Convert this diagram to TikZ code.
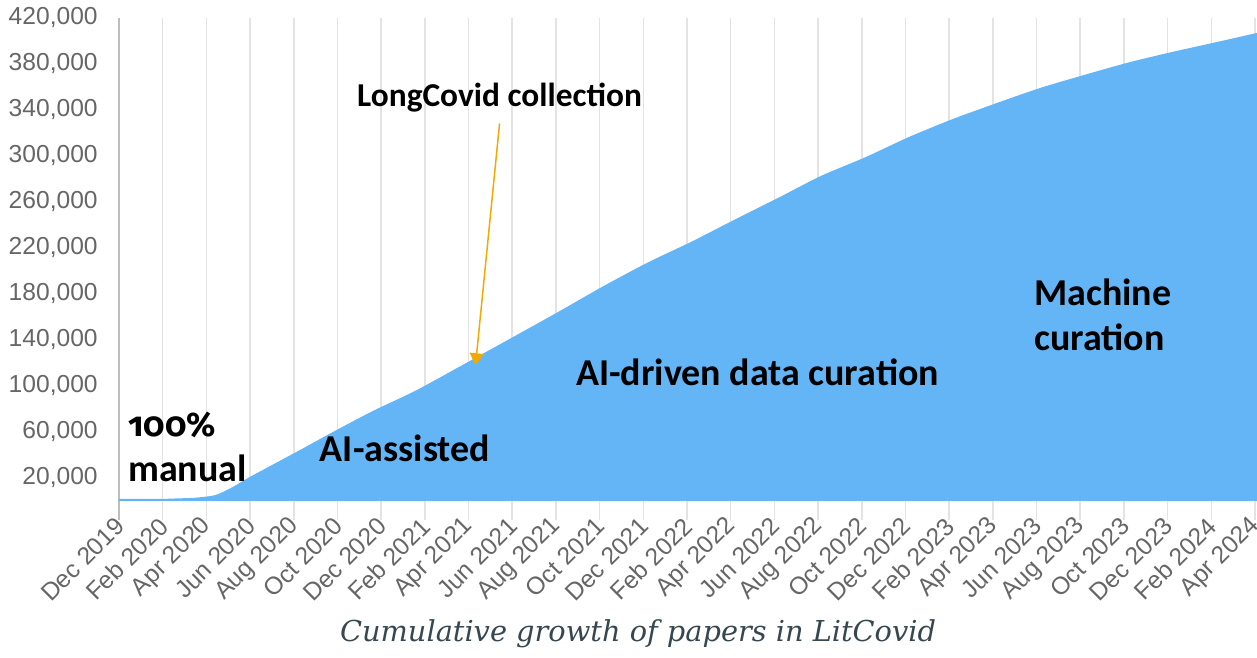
\documentclass[tikz,border=0pt]{standalone}
\usepackage{fontspec}
\setmainfont{Carlito}
\newfontfamily\tickfont{Liberation Sans}
\newfontfamily\capfont{DejaVu Serif}
\newfontfamily\notefont{Carlito}
\newfontfamily\oldnum[Numbers=OldStyle]{Fira Sans}
\usetikzlibrary{arrows.meta}
\definecolor{areaBlue}{RGB}{100,181,246}
\definecolor{gridGray}{RGB}{227,227,227}
\definecolor{axisGray}{RGB}{189,189,189}
\definecolor{tickGray}{RGB}{102,102,102}
\definecolor{capSlate}{RGB}{55,71,79}
\definecolor{noteOrange}{RGB}{242,169,0}

\begin{document}
\begin{tikzpicture}[x=0.43692cm, y=0.023cm,
  ticklab/.style={font=\tickfont\fontsize{14}{16}\selectfont, text=tickGray, inner sep=0pt},
  phase/.style={font=\notefont\bfseries\fontsize{21.6}{25.6}\selectfont, inner sep=0pt, align=left},
  gridline/.style={gridGray, line width=0.9pt}]
  \useasboundingbox (-5.447,-136.52) rectangle (52.092,435.65);
  % months on x (0 = Dec 2019), thousands of papers on y
  \foreach \m in {2,4,...,52}
    \draw[gridline] (\m,-16.5) -- (\m,420);
  \draw[axisGray, line width=1pt] (0,-16.5) -- (0,420);
  \fill[areaBlue] (0,0) -- (0,1.7) -- (2,1.7) -- plot[smooth, tension=0.45] coordinates {
      (3.4,2.6) (4.4,5) (5.22,12.2) (6,20.9) (8.29,44.3) (9.8,60) (11.63,78.3)
      (13.64,96.5) (16.39,125.2) (18.13,143.5) (20.1,164.3) (22.11,186.1)
      (24.17,207) (26.18,225.2) (28.15,244.3) (30.17,263.5) (32.13,282.6)
      (34.19,299.1) (36.16,316.5) (38.18,332.2) (40.19,346.1) (42.16,359.1)
      (44.1,370) (46.19,381.2) (48.2,390.4) (50.26,399.1) (52.09,407)}
    -- (52.09,0) -- cycle;

  \foreach \v in {20,60,...,420}
    \node[ticklab, anchor=east] (y\v) at (-0.96,\v) {\v,000};
  \foreach \lab [count=\i from 0] in {Dec 2019, Feb 2020, Apr 2020, Jun 2020, Aug 2020,
      Oct 2020, Dec 2020, Feb 2021, Apr 2021, Jun 2021, Aug 2021, Oct 2021, Dec 2021,
      Feb 2022, Apr 2022, Jun 2022, Aug 2022, Oct 2022, Dec 2022, Feb 2023, Apr 2023,
      Jun 2023, Aug 2023, Oct 2023, Dec 2023, Feb 2024, Apr 2024}
    \node[ticklab, anchor=east, rotate=45] (x\i) at ({2*\i+0.05},-18.3) {\lab};

  \node[phase, anchor=base west] (manual) at (0.41,16.5)
    {{\oldnum\bfseries\fontsize{19.4}{25.6}\selectfont 100\%}\\manual};
  \node[phase, anchor=base] (assisted) at (13.09,33.9) {AI-assisted};
  \node[phase, anchor=base] (driven) at (29.23,100) {AI-driven data curation};
  \node[phase, anchor=base west] (machine) at (41.88,130.4) {Machine\\curation};

  \node[font=\notefont\bfseries\fontsize{19}{22}\selectfont, inner sep=0pt, anchor=base]
    (longcovid) at (17.42,342.6) {LongCovid collection};
  \coordinate (lctip) at (16.32,118);
  \draw[noteOrange, line width=0.85pt, -{Triangle[width=8pt,length=6.8pt]}]
    ([yshift=-6pt]longcovid.south) -- (lctip);

  \node[font=\capfont\itshape\fontsize{16.4}{19}\selectfont, text=capSlate, anchor=base]
    (caption) at (23.76,-122.6) {Cumulative growth of papers in LitCovid};
\end{tikzpicture}
\end{document}
